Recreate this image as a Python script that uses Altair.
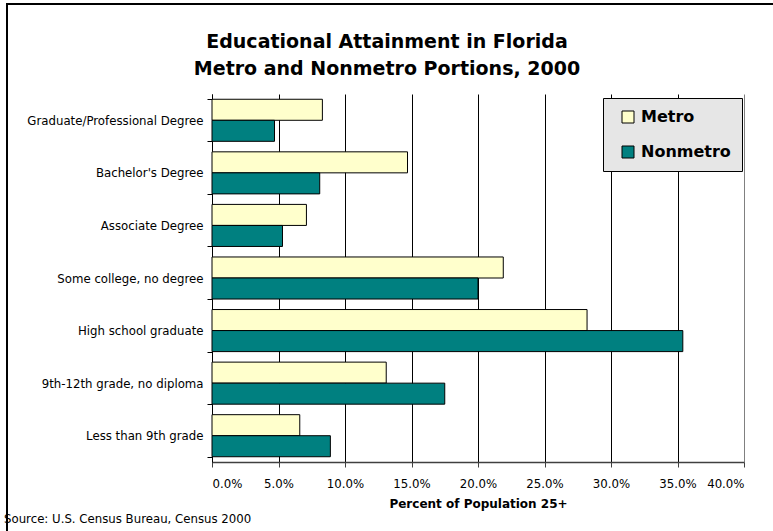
import altair as alt
import pandas as pd

# ---- data ----
categories = [
    "Graduate/Professional Degree",
    "Bachelor's Degree",
    "Associate Degree",
    "Some college, no degree",
    "High school graduate",
    "9th-12th grade, no diploma",
    "Less than 9th grade",
]
metro = [8.3, 14.7, 7.1, 21.9, 28.2, 13.1, 6.6]
nonmetro = [4.7, 8.1, 5.3, 20.0, 35.4, 17.5, 8.9]
series = ["Metro", "Nonmetro"]
series_colors = ["#FFFFCC", "#008080"]
x_ticks = [0, 5, 10, 15, 20, 25, 30, 35, 40]
title_lines = ["Educational Attainment in Florida", "Metro and Nonmetro Portions, 2000"]
x_title = "Percent of Population 25+"
source_note = ["Source: U.S. Census Bureau, Census 2000"]

rows = []
for c, m, n in zip(categories, metro, nonmetro):
    rows.append({"category": c, "series": series[0], "value": m})
    rows.append({"category": c, "series": series[1], "value": n})
df = pd.DataFrame(rows)

FONT = "DejaVu Sans"

bars = alt.Chart(df).mark_bar(stroke="black", strokeWidth=1, opacity=1).encode(
    x=alt.X(
        "value:Q",
        scale=alt.Scale(domain=[0, 40], nice=False, zero=True),
        axis=alt.Axis(
            values=x_ticks,
            labelExpr="format(datum.value, '.1f') + '%'",
            title=x_title,
            titleFont=FONT,
            titleFontSize=12,
            titleFontWeight="bold",
            titleColor="black",
            titlePadding=9,
            labelFont=FONT,
            labelFontSize=11.75,
            labelColor="black",
            labelPadding=11,
            grid=True,
            gridColor={"condition": {"test": "datum.value === 40", "value": "#808080"}, "value": "#000000"},
            gridWidth=1,
            domainColor="#404040",
            domainWidth=1.5,
            tickColor="#404040",
            tickSize=5,
        ),
    ),
    y=alt.Y(
        "category:N",
        sort=categories,
        scale=alt.Scale(paddingInner=0.2, paddingOuter=0.1),
        axis=alt.Axis(
            title=None,
            tickBand="extent",
            labelFont=FONT,
            labelFontSize=11.75,
            labelColor="black",
            labelPadding=4,
            tickSize=5,
            tickColor="black",
            domainColor="black",
            grid=False,
        ),
    ),
    yOffset=alt.YOffset("series:N", sort=series),
    color=alt.Color(
        "series:N",
        sort=series,
        scale=alt.Scale(domain=series, range=series_colors),
        legend=alt.Legend(
            title=None,
            orient="none",
            legendX=391,
            legendY=4,
            fillColor="#E6E6E6",
            strokeColor="black",
            padding=11,
            symbolOffset=6,
            symbolType="square",
            symbolSize=144,
            symbolStrokeColor="black",
            symbolStrokeWidth=1,
            symbolOpacity=1,
            labelFont=FONT,
            labelFontSize=16,
            labelFontWeight="bold",
            labelColor="black",
            labelOffset=5,
            rowPadding=19,
        ),
    ),
)

border = alt.Chart(pd.DataFrame({"k": [0]})).mark_rect(
    fillOpacity=0, stroke="black", strokeWidth=2
).encode(
    x=alt.value(-205), x2=alt.value(640), y=alt.value(-90), y2=alt.value(520)
)

source = alt.Chart(pd.DataFrame({"t": source_note})).mark_text(
    align="left", baseline="alphabetic", font=FONT, fontSize=11.75, color="black"
).encode(text="t:N", x=alt.value(-208), y=alt.value(429))

title1 = alt.Chart(pd.DataFrame({"t": title_lines[:1]})).mark_text(
    align="center", baseline="alphabetic", font=FONT, fontSize=19, fontWeight="bold", color="black"
).encode(text="t:N", x=alt.value(175), y=alt.value(-46))

title2 = alt.Chart(pd.DataFrame({"t": title_lines[1:]})).mark_text(
    align="center", baseline="alphabetic", font=FONT, fontSize=19, fontWeight="bold", color="black"
).encode(text="t:N", x=alt.value(175), y=alt.value(-19))

chart = alt.layer(border, bars, source, title1, title2).properties(
    width=532,
    height=368,
    padding={"left": 212, "top": 94, "right": 29, "bottom": 69},
    autosize=alt.AutoSizeParams(type="none"),
    background="white",
).configure_view(stroke=None)

chart.save("out.html", embed_options={"renderer": "svg", "actions": False})
